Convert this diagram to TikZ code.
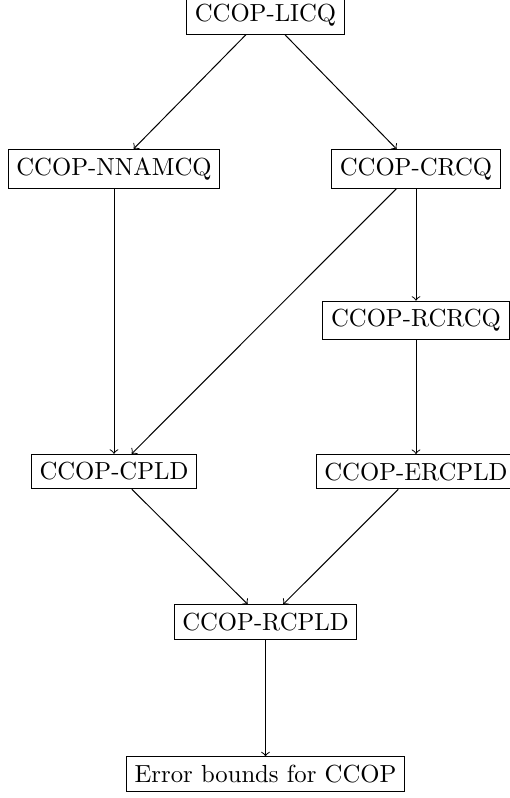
\documentclass[tikz,border=0pt]{standalone}
\begin{document}
\begin{tikzpicture}[x=0.4049pt,y=-0.4049pt,
  box/.style={draw, rectangle, inner sep=3.333pt, line width=0.4pt},
  arr/.style={->, line width=0.4pt}]
\useasboundingbox (0,0) rectangle (510,798);
\node[box] (licq)   at (265.5,14.8) {CCOP-LICQ};
\node[box] (nnam)   at (114,168.8)  {CCOP-NNAMCQ};
\node[box] (crcq)   at (416,169)    {CCOP-CRCQ};
\node[box] (rcrcq)  at (416,320.5)  {CCOP-RCRCQ};
\node[box] (cpld)   at (114,471.5)  {CCOP-CPLD};
\node[box] (ercpld) at (416,471.7)  {CCOP-ERCPLD};
\node[box] (rcpld)  at (265.5,622)  {CCOP-RCPLD};
\node[box] (err)    at (265.5,774)  {Error bounds for CCOP};
\draw[arr] (licq) -- (nnam);
\draw[arr] (licq) -- (crcq);
\draw[arr] (nnam) -- (cpld);
\draw[arr] (crcq) -- (cpld);
\draw[arr] (crcq) -- (rcrcq);
\draw[arr] (rcrcq) -- (ercpld);
\draw[arr] (cpld) -- (rcpld);
\draw[arr] (ercpld) -- (rcpld);
\draw[arr] (rcpld) -- (err);
\end{tikzpicture}
\end{document}
